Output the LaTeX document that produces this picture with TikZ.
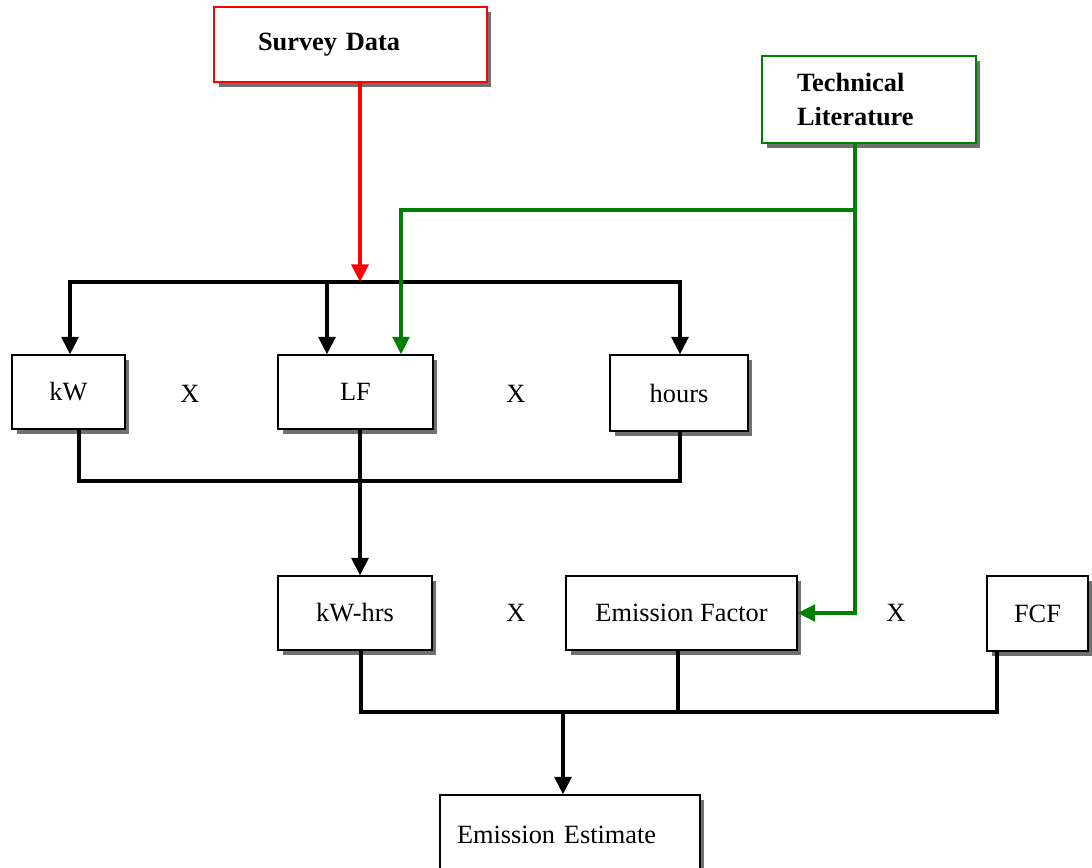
\documentclass[tikz,border=0pt]{standalone}
\usepackage{fontspec}
\setmainfont{Liberation Serif}
\usetikzlibrary{arrows.meta,shadows}
\definecolor{srvred}{RGB}{255,0,0}
\definecolor{litgreen}{RGB}{0,128,0}
\definecolor{shadowgrey}{RGB}{112,112,112}

\begin{document}
\begin{tikzpicture}[x=0.02cm,y=-0.02cm,
  every node/.style={font=\fontsize{15}{19}\selectfont},
  box/.style={draw=black,fill=white,line width=0.7pt,inner sep=0pt,
    drop shadow={shadow xshift=0.09cm,shadow yshift=-0.09cm,fill=shadowgrey,opacity=1}},
  src/.style={box,line width=1.1pt,align=left,font=\fontsize{15}{19}\selectfont\bfseries},
  bar/.style={line width=0.08cm,line join=miter},
  ar/.style={bar,-{Triangle[length=10pt,width=9.5pt]}}]
\useasboundingbox (0,0) rectangle (1092,867);
% sources
\node[src,draw=srvred,text width=3.7cm,inner xsep=0.88cm,minimum height=1.5cm] (survey) at (350.5,44.5) {Survey Data};
\node[src,draw=litgreen,text width=2.88cm,inner xsep=0.7cm,minimum height=1.74cm] (tech) at (869,99.5) {Technical\\Literature};
% first product
\node[box,minimum width=2.26cm,minimum height=1.48cm] (kW) at (68.5,392) {kW};
\node[box,minimum width=3.1cm,minimum height=1.48cm] (LF) at (355.5,392) {LF};
\node[box,minimum width=2.76cm,minimum height=1.52cm] (hours) at (679,393) {hours};
\node (x1) at (190,394) {X};
\node (x2) at (516,394) {X};
% second product
\node[box,minimum width=3.08cm,minimum height=1.48cm] (kWhrs) at (355,613) {kW-hrs};
\node[box,minimum width=4.62cm,minimum height=1.48cm] (EF) at (681.5,613) {Emission Factor};
\node[box,minimum width=2.02cm,minimum height=1.5cm] (FCF) at (1037.5,613.5) {FCF};
\node (x3) at (516,613) {X};
\node (x4) at (896,613) {X};
\node[box,align=left,text width=4.52cm,inner xsep=0.34cm,minimum height=1.6cm] (est) at (570,835) {Emission Estimate};
% junctions
\coordinate (rd) at (360,282);
\coordinate (tl) at (70,282); \coordinate (tm) at (327,282); \coordinate (tr) at (680,282);
\coordinate (gt) at (855,210); \coordinate (gl) at (401,210);
\coordinate (bl) at (79,481); \coordinate (bm) at (360,481); \coordinate (br) at (680,481);
\coordinate (cl) at (361,712); \coordinate (ce) at (563,712); \coordinate (cm) at (678,712); \coordinate (cr) at (997,712);
% connectors
\draw[ar] (tm) -- (tl) -- (kW.north -| tl);
\draw[ar] (tm) -- (tr) -- (hours.north -| tr);
\draw[ar] (tm) -- (LF.north -| tm);
\draw[ar,draw=srvred,fill=srvred] (survey.south -| rd) -- (rd);
\draw[ar,draw=litgreen,line width=0.07cm] (tech.south -| gt) -- (gt) -- (gl) -- (LF.north -| gl);
\draw[ar,draw=litgreen,line width=0.07cm] (gt) -- (gt |- EF.east) -- (EF.east);
\draw[bar] (kW.south -| bl) -- (bl) -- (br) -- (hours.south -| br);
\draw[ar] (LF.south -| bm) -- (kWhrs.north -| bm);
\draw[bar] (kWhrs.south -| cl) -- (cl) -- (cr) -- (FCF.south -| cr);
\draw[bar] (EF.south -| cm) -- (cm);
\draw[ar] (ce) -- (est.north -| ce);
\end{tikzpicture}
\end{document}
